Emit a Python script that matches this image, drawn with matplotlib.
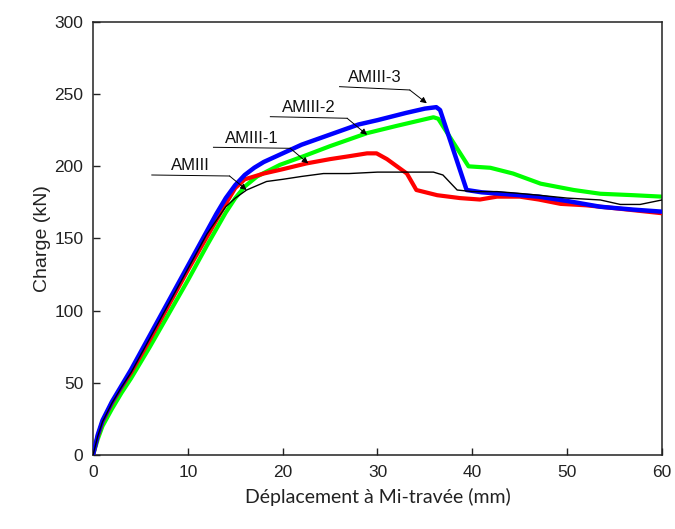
import matplotlib.pyplot as plt

# courbes charge / deplacement
bx = [0, 0.5, 1, 2, 3, 4, 6, 8, 10, 12, 13, 14, 15, 16, 17, 18, 20, 22, 25, 28, 30, 33, 35, 36.2, 36.6, 39.4, 41, 43, 47, 50, 53.5, 57, 60]
by = [0, 14, 24, 37, 48, 59, 83, 107, 131, 155, 167, 178, 187, 194, 199, 203, 209, 215, 222, 229, 232, 237, 240, 241, 239, 183.6, 182, 181, 179, 176, 172, 170, 168.6]

rx = [0, 0.5, 1, 2, 3, 4, 6, 8, 10, 12, 14, 15, 16, 18, 20, 22.5, 25, 27, 28.9, 29.9, 31, 33.1, 34.1, 36.3, 38.7, 40.8, 42.6, 45, 47, 49.3, 52, 55, 60]
ry = [0, 13, 23, 36, 47, 57, 80, 104, 128, 151, 174, 185, 191, 195, 198, 202, 205, 207, 209, 209, 205, 195, 183.6, 180, 178, 177, 179, 179, 177, 174, 173, 171, 167.5]

gx = [0, 0.5, 1, 2, 3, 4, 6, 8, 10, 12, 14, 15, 16, 17.3, 19.7, 22.2, 25, 28.9, 32, 35.9, 36.4, 39.6, 41.9, 44.3, 47.2, 50.7, 53.5, 57, 60]
gy = [0, 11, 20, 32, 43, 53, 75, 98, 121, 145, 168, 178, 186, 193, 201, 207, 214, 223, 228, 234, 233, 200, 199, 195, 188, 183.6, 181, 180, 179]

kx = [0, 0.5, 1, 2, 3, 4, 6, 8, 10, 12, 14, 15, 16.2, 18.3, 20, 22, 24.3, 27, 30, 33, 35.9, 36.9, 38.4, 40, 42.6, 44.7, 47, 50, 53.5, 55.6, 57.7, 60]
ky = [0, 13, 23, 36, 47, 57, 81, 105, 129, 153, 172, 178, 183.6, 189.5, 191, 193, 195, 195, 196, 196, 196, 194, 183.6, 182.5, 182.5, 181.4, 180, 178, 176.7, 173.6, 173.6, 176.7]

labels = ['AMIII', 'AMIII-1', 'AMIII-2', 'AMIII-3']
# leader: start of horizontal line, corner, point on curve
leaders = [
    [(6.2, 194), (14.4, 193.3), (16.2, 183.6)],
    [(12.7, 213.2), (20.8, 212.5), (22.7, 202)],
    [(18.7, 234.4), (26.8, 233.3), (28.9, 221.8)],
    [(26.0, 255.2), (33.4, 252.9), (35.2, 243.7)],
]

plt.rcParams['font.family'] = ['Liberation Sans', 'DejaVu Sans']

fig = plt.figure(figsize=(6.75, 5.29), dpi=100)
ax = fig.add_axes([0.1378, 0.1399, 0.8429, 0.8185])

ax.plot(gx, gy, color='#00ff00', lw=3.0, zorder=2)
ax.plot(rx, ry, color='#ff0000', lw=3.0, zorder=3)
ax.plot(bx, by, color='#0000ff', lw=3.2, zorder=4)
ax.plot(kx, ky, color='black', lw=1.0, zorder=5)

for lab, pts in zip(labels, leaders):
    (x0, y0), (x1, y1), (x2, y2) = pts
    ax.plot([x0, x1], [y0, y1], color='black', lw=0.7, zorder=6)
    ax.annotate('', xy=(x2, y2), xytext=(x1, y1),
                arrowprops=dict(arrowstyle='-|>', color='black', lw=0.7,
                                mutation_scale=9, shrinkA=0, shrinkB=0),
                zorder=6)
    ax.text((x0 + x1) / 2, y0 + 1.2, lab, ha='center', va='bottom',
            fontsize=12, color='#111111', zorder=6)

ax.set_xlim(0, 60)
ax.set_ylim(0, 300)
ax.set_xticks(range(0, 61, 10))
ax.set_yticks(range(0, 301, 50))
ax.tick_params(direction='in', length=5, width=1, labelsize=12.5, pad=7,
               colors='#222222')
for s in ax.spines.values():
    s.set_linewidth(1.1)
    s.set_color('#222222')

ax.set_xlabel('Déplacement à Mi-travée (mm)', fontsize=14, family=['Lato', 'DejaVu Sans'],
              labelpad=6, color='#222222')
ax.set_ylabel('Charge (kN)', fontsize=14, labelpad=2, color='#222222')

fig.savefig('out.png', dpi=100)
